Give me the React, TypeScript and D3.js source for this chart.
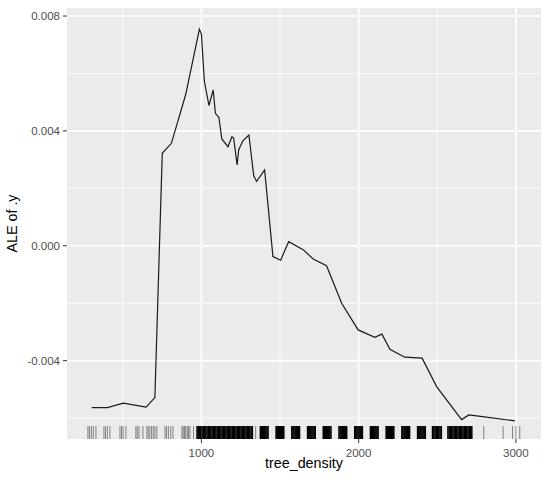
import React from "react";
import * as d3 from "d3";

// ALE curve (tree_density -> ALE of .y)
const aleX = [302, 402, 503, 648, 704, 751, 809, 900, 987, 1000, 1019, 1048, 1075, 1089, 1111, 1130, 1169, 1194, 1205, 1227, 1237, 1264, 1302, 1333, 1351, 1402, 1455, 1504, 1555, 1647, 1711, 1796, 1892, 1997, 2103, 2148, 2199, 2294, 2404, 2496, 2655, 2701, 2787, 2994];
const aleY = [-0.005636, -0.005636, -0.005483, -0.005622, -0.005288, 0.00322, 0.003568, 0.005267, 0.00754, 0.007373, 0.00572, 0.004884, 0.005424, 0.004613, 0.004467, 0.003718, 0.00345, 0.003798, 0.003753, 0.002813, 0.003335, 0.003655, 0.003857, 0.00243, 0.002239, 0.002639, -0.00038, -0.000505, 0.000143, -0.000135, -0.000459, -0.000696, -0.002002, -0.002931, -0.003192, -0.003077, -0.003603, -0.003881, -0.003916, -0.004905, -0.006054, -0.00589, -0.005949, -0.006099];

// rug of observed tree_density values
const rugSparse = [278, 288, 300, 312, 329, 380, 390, 402, 418, 482, 492, 502, 520, 583, 592, 603, 628, 653, 662, 672, 683, 694, 705, 717, 768, 778, 790, 805, 819, 876, 884, 892, 900, 910, 918, 927, 950, 1345, 2796, 2919, 2979, 3000, 3025];
const rugDense = [972, 980, 988, 996, 1004, 1012, 1020, 1028, 1036, 1044, 1052, 1060, 1068, 1076, 1084, 1092, 1100, 1108, 1116, 1124, 1132, 1140, 1148, 1156, 1164, 1172, 1180, 1188, 1196, 1204, 1212, 1220, 1228, 1236, 1244, 1252, 1260, 1268, 1276, 1284, 1292, 1300, 1308, 1316, 1324,
  1375, 1382, 1389, 1396, 1403, 1410, 1417, 1424,
  1475, 1482, 1489, 1496, 1503, 1510, 1517, 1524,
  1575, 1582, 1589, 1596, 1603, 1610, 1617, 1624,
  1675, 1682, 1689, 1696, 1703, 1710, 1717, 1724,
  1775, 1782, 1789, 1796, 1803, 1810, 1817, 1824,
  1875, 1882, 1889, 1896, 1903, 1910, 1917, 1924,
  1975, 1982, 1989, 1996, 2003, 2010, 2017, 2024,
  2075, 2082, 2089, 2096, 2103, 2110, 2117, 2124,
  2175, 2182, 2189, 2196, 2203, 2210, 2217, 2224,
  2275, 2282, 2289, 2296, 2303, 2310, 2317, 2324,
  2375, 2382, 2389, 2396, 2403, 2410, 2417, 2424,
  2470, 2478, 2486, 2494, 2502, 2510, 2518, 2526,
  2568, 2576, 2584, 2592, 2600, 2608, 2616, 2624, 2632, 2640, 2648, 2656, 2664, 2672, 2680, 2688, 2696, 2704, 2712, 2720];

const xMajor = [1000, 2000, 3000];
const xMinor = [500, 1500, 2500];
const yMajor = [-0.004, 0, 0.004, 0.008];
const yMinor = [-0.006, -0.002, 0.002, 0.006];
const yTickLabels = ["-0.004", "0.000", "0.004", "0.008"];
const xTickLabels = ["1000", "2000", "3000"];

const W = 550, H = 485;
const panel = { left: 67, right: 541, top: 8, bottom: 439 };
const FONT = "'Liberation Sans', Arial, sans-serif";

export default function App() {
  const x = d3.scaleLinear().domain([145, 3160]).range([panel.left, panel.right]);
  const y = d3.scaleLinear().domain([-0.00673, 0.00828]).range([panel.bottom, panel.top]);
  const pts = aleX.map((v, i) => [v, aleY[i]] as [number, number]);
  const line = d3.line<[number, number]>().x(d => x(d[0])).y(d => y(d[1]))(pts) || "";
  const rugLen = (panel.bottom - panel.top) * 0.03;
  const pw = panel.right - panel.left, ph = panel.bottom - panel.top;

  return (
    <svg width={W} height={H} style={{ position: "absolute", left: 0, top: 0, background: "#fff" }} fontFamily={FONT}>
      <rect x={panel.left} y={panel.top} width={pw} height={ph} fill="#EBEBEB" />
      {xMinor.map(v => (
        <line key={"xm" + v} x1={x(v)} x2={x(v)} y1={panel.top} y2={panel.bottom} stroke="#fff" strokeWidth={0.8} />
      ))}
      {yMinor.map(v => (
        <line key={"ym" + v} x1={panel.left} x2={panel.right} y1={y(v)} y2={y(v)} stroke="#fff" strokeWidth={0.8} />
      ))}
      {xMajor.map(v => (
        <line key={"xM" + v} x1={x(v)} x2={x(v)} y1={panel.top} y2={panel.bottom} stroke="#fff" strokeWidth={1.6} />
      ))}
      {yMajor.map(v => (
        <line key={"yM" + v} x1={panel.left} x2={panel.right} y1={y(v)} y2={y(v)} stroke="#fff" strokeWidth={1.6} />
      ))}
      <g>
        {rugSparse.map((v, i) => (
          <line key={"rs" + i} x1={x(v)} x2={x(v)} y1={panel.bottom} y2={panel.bottom - rugLen} stroke="#000" strokeWidth={1} strokeOpacity={0.45} />
        ))}
        {rugDense.map((v, i) => (
          <line key={"rd" + i} x1={x(v)} x2={x(v)} y1={panel.bottom} y2={panel.bottom - rugLen} stroke="#000" strokeWidth={1.5} />
        ))}
      </g>
      <path d={line} fill="none" stroke="#1a1a1a" strokeWidth={1.2} />
      {yMajor.map((v, i) => (
        <g key={"yt" + v}>
          <line x1={panel.left - 4} x2={panel.left} y1={y(v)} y2={y(v)} stroke="#333" strokeWidth={1} />
          <text x={panel.left - 7} y={y(v)} dy="0.36em" textAnchor="end" fontSize={11.5} fill="#4D4D4D">{yTickLabels[i]}</text>
        </g>
      ))}
      {xMajor.map((v, i) => (
        <g key={"xt" + v}>
          <line x1={x(v)} x2={x(v)} y1={panel.bottom} y2={panel.bottom + 4} stroke="#333" strokeWidth={1} />
          <text x={x(v)} y={456.5} textAnchor="middle" fontSize={11.5} fill="#4D4D4D">{xTickLabels[i]}</text>
        </g>
      ))}
      <text x={(panel.left + panel.right) / 2} y={467.5} textAnchor="middle" fontSize={14.3} fill="#000">tree_density</text>
      <text transform={`translate(17, ${(panel.top + panel.bottom) / 2}) rotate(-90)`} textAnchor="middle" fontSize={14.3} fill="#000">ALE of .y</text>
    </svg>
  );
}
